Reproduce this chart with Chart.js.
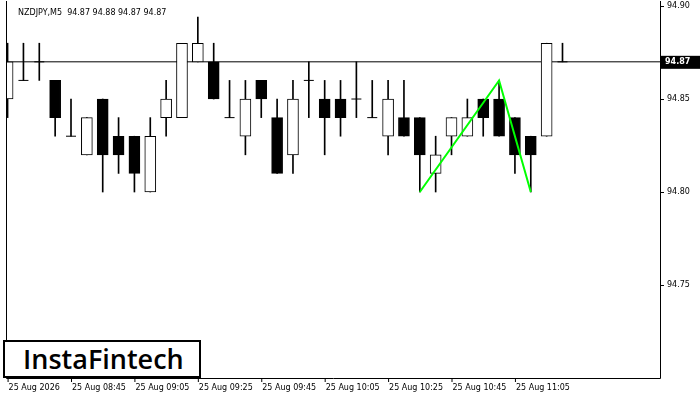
<!DOCTYPE html>
<html><head><meta charset="utf-8">
<script src="https://cdn.jsdelivr.net/npm/chart.js@4"></script>
<style>
html,body{margin:0;padding:0;background:#fff;overflow:hidden;}
#wrap{position:relative;width:700px;height:400px;overflow:hidden;}
#c{position:absolute;left:0;top:-5px;}
#logo{position:absolute;left:3px;top:340px;width:198px;height:38px;border:2px solid #000;background:#fff;box-sizing:border-box;font-family:"Open Sans",sans-serif;font-weight:600;font-size:27px;line-height:34px;padding-left:18px;color:#000;}
</style></head><body>
<div id="wrap"><canvas id="c" width="700" height="405"></canvas><div id="logo">InstaFintech</div></div>
<script>
const opens  = [94.85,94.86,94.87,94.86,94.83,94.82,94.85,94.83,94.83,94.80,94.84,94.84,94.87,94.87,94.84,94.83,94.86,94.84,94.82,94.86,94.85,94.85,94.85,94.84,94.83,94.84,94.84,94.81,94.83,94.83,94.85,94.85,94.84,94.83,94.83,94.87];
const highs  = [94.88,94.88,94.88,94.86,94.85,94.84,94.85,94.84,94.83,94.84,94.86,94.88,94.894,94.88,94.86,94.86,94.86,94.85,94.86,94.87,94.86,94.86,94.87,94.86,94.86,94.86,94.84,94.83,94.84,94.85,94.85,94.86,94.84,94.83,94.88,94.88];
const lows   = [94.84,94.86,94.86,94.83,94.83,94.82,94.80,94.81,94.80,94.80,94.83,94.84,94.87,94.85,94.84,94.82,94.84,94.81,94.81,94.84,94.82,94.83,94.84,94.84,94.82,94.83,94.80,94.80,94.82,94.83,94.83,94.83,94.81,94.80,94.83,94.87];
const closes = [94.87,94.86,94.87,94.84,94.83,94.84,94.82,94.82,94.81,94.83,94.85,94.88,94.88,94.85,94.84,94.85,94.85,94.81,94.85,94.86,94.84,94.84,94.85,94.84,94.85,94.83,94.82,94.82,94.84,94.84,94.84,94.83,94.82,94.82,94.88,94.87];
const timeLabels = ["25 Aug 2026","25 Aug 08:45","25 Aug 09:05","25 Aug 09:25","25 Aug 09:45","25 Aug 10:05","25 Aug 10:25","25 Aug 10:45","25 Aug 11:05"];
const patternX = [26,31,33];
const patternY = [94.80,94.86,94.80];
const currentPrice = 94.87;
const priceTicks = [94.75,94.80,94.85,94.90];
const headerText = "NZDJPY,M5  94.87 94.88 94.87 94.87";

const idx = opens.map((_,i)=>i);
const wicks = idx.map(i=>({x:i,y:[lows[i],highs[i]]}));
const bodies = idx.filter(i=>opens[i]!==closes[i]).map(i=>({x:i,y:[opens[i],closes[i]],bull:closes[i]>opens[i]}));
const dojis = idx.filter(i=>opens[i]===closes[i]).map(i=>({x:i,y:opens[i]}));

const overlay = {
  id:'overlay',
  afterDraw(ch){
    const c=ch.ctx, a=ch.chartArea, y=ch.scales.y, x=ch.scales.x;
    c.save();
    c.strokeStyle='#000';c.lineWidth=1;
    c.beginPath();
    c.moveTo(a.left+0.5,a.top);c.lineTo(a.left+0.5,a.bottom+0.5);c.lineTo(a.right+0.5,a.bottom+0.5);c.lineTo(a.right+0.5,a.top);
    c.stroke();
    c.fillStyle='#000';c.font='8px "DejaVu Sans"';c.textBaseline='middle';c.textAlign='left';
    priceTicks.forEach(v=>{const py=y.getPixelForValue(v);
      c.beginPath();c.moveTo(a.right,py+0.5);c.lineTo(a.right+4,py+0.5);c.stroke();
      c.fillText(v.toFixed(2),a.right+7,py);});
    timeLabels.forEach((t,i)=>{const px=x.getPixelForValue(i*4);
      c.beginPath();c.moveTo(px+0.5,a.bottom);c.lineTo(px+0.5,a.bottom+4);c.stroke();
      c.fillText(t,px+1,a.bottom+10);});
    const py=y.getPixelForValue(currentPrice);
    c.fillStyle='#000';c.fillRect(a.right+1,py-6,39,13);
    c.fillStyle='#fff';c.font='bold 8px "DejaVu Sans"';
    c.fillText(currentPrice.toFixed(2),a.right+5,py+0.5);
    c.fillStyle='#000';c.font='8px "DejaVu Sans"';
    c.fillText(headerText,18,a.top+12);
    c.restore();
  }
};

new Chart(document.getElementById('c'),{
  data:{datasets:[
    {type:'line',data:[{x:-1,y:currentPrice},{x:45,y:currentPrice}],borderColor:'#000',borderWidth:1,pointRadius:0,order:5},
    {type:'bar',data:wicks,backgroundColor:'#000',barThickness:1,grouped:false,order:4},
    {type:'bar',data:bodies,backgroundColor:bodies.map(b=>b.bull?'#fff':'#000'),borderColor:'#000',borderWidth:1,borderSkipped:false,barThickness:11,grouped:false,order:3},
    {type:'scatter',data:dojis,pointStyle:'line',pointRadius:5,borderColor:'#000',borderWidth:1,order:2},
    {type:'line',data:patternX.map((x,i)=>({x,y:patternY[i]})),borderColor:'#00ff00',borderWidth:2,pointRadius:0,order:1}
  ]},
  options:{
    responsive:false,animation:false,
    layout:{padding:0},
    plugins:{legend:{display:false},tooltip:{enabled:false}},
    scales:{
      x:{type:'linear',offset:false,min:-0.1,max:41.15,grid:{display:false},border:{display:false},
        ticks:{display:false},afterFit(s){s.height=22;}},
      y:{position:'right',min:94.70,max:94.9027,grid:{display:false},border:{display:false},
        ticks:{display:false},afterFit(s){s.width=40;}}
    }
  },
  plugins:[overlay]
});
</script></body></html>
